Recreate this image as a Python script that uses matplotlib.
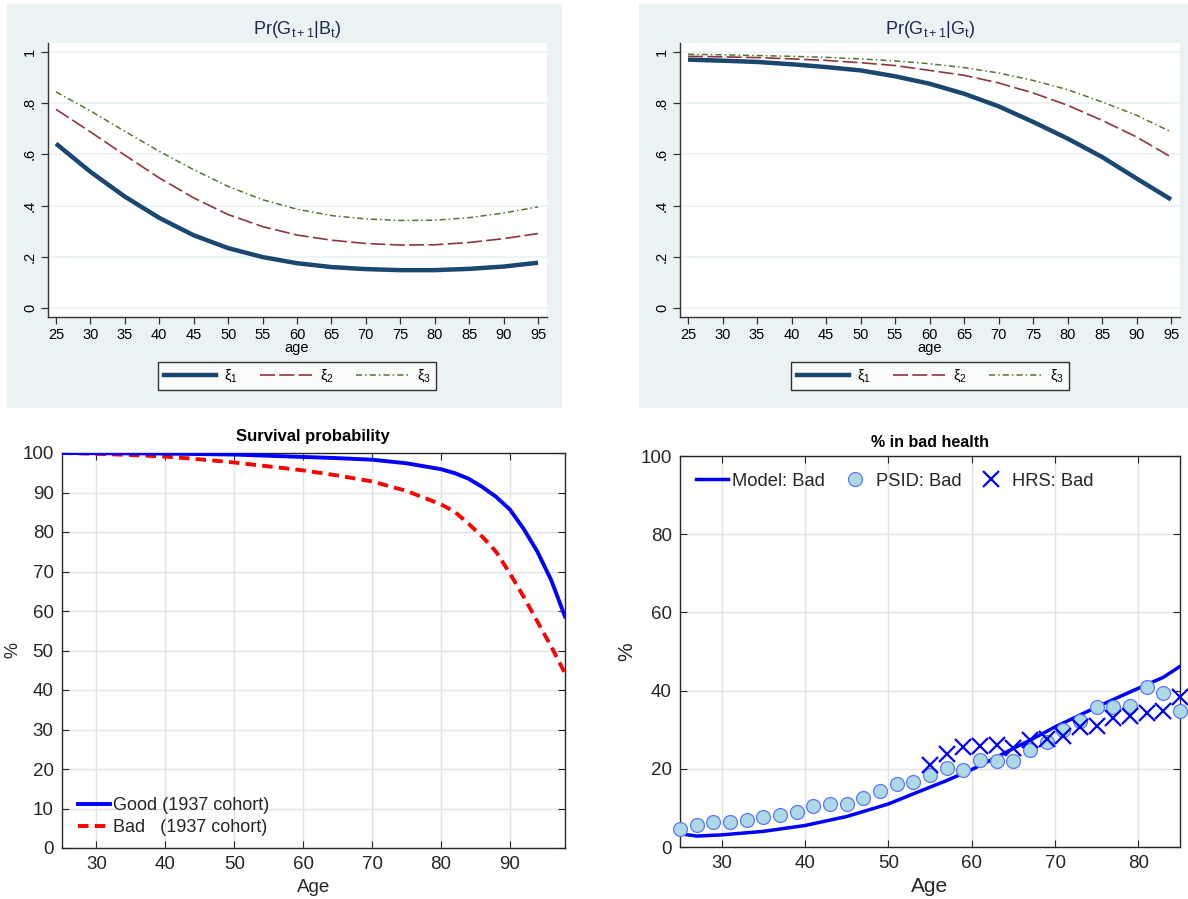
import numpy as np
import matplotlib
matplotlib.use("Agg")
import matplotlib.pyplot as plt
from matplotlib.patches import Rectangle
from matplotlib.lines import Line2D

plt.rcParams['font.family'] = ['Liberation Sans', 'DejaVu Sans']
plt.rcParams['mathtext.fontset'] = 'custom'
plt.rcParams['mathtext.rm'] = 'Liberation Sans'
plt.rcParams['mathtext.it'] = 'Liberation Sans:italic'

# ---------------- data ----------------
ages5 = [25, 30, 35, 40, 45, 50, 55, 60, 65, 70, 75, 80, 85, 90, 95]
gb_xi1 = [0.642, 0.532, 0.435, 0.352, 0.284, 0.234, 0.199, 0.175, 0.160, 0.152, 0.148, 0.148, 0.153, 0.162, 0.177]
gb_xi2 = [0.776, 0.688, 0.597, 0.508, 0.430, 0.365, 0.318, 0.285, 0.265, 0.252, 0.246, 0.247, 0.256, 0.271, 0.291]
gb_xi3 = [0.844, 0.770, 0.690, 0.612, 0.540, 0.475, 0.423, 0.386, 0.361, 0.348, 0.342, 0.343, 0.353, 0.371, 0.395]

gg_xi1 = [0.970, 0.966, 0.961, 0.952, 0.941, 0.928, 0.905, 0.876, 0.837, 0.788, 0.727, 0.662, 0.590, 0.506, 0.424]
gg_xi2 = [0.983, 0.981, 0.978, 0.973, 0.967, 0.958, 0.947, 0.928, 0.909, 0.879, 0.840, 0.792, 0.733, 0.668, 0.590]
gg_xi3 = [0.991, 0.989, 0.986, 0.983, 0.979, 0.973, 0.965, 0.954, 0.939, 0.918, 0.889, 0.853, 0.805, 0.753, 0.688]

xi_labels = ["ξ$_1$", "ξ$_2$", "ξ$_3$"]
top_yticks = [0, 0.2, 0.4, 0.6, 0.8, 1.0]
top_yticklabels = ["0", ".2", ".4", ".6", ".8", "1"]

surv_age_good = [25, 30, 40, 50, 60, 65, 70, 75, 80, 82, 84, 86, 88, 90, 92, 94, 96, 98]
surv_good = [100.0, 99.95, 99.85, 99.6, 99.0, 98.7, 98.3, 97.4, 95.9, 94.9, 93.5, 91.4, 88.9, 85.7, 80.8, 75.0, 67.8, 58.6]
surv_age_bad = [25, 30, 35, 40, 45, 50, 55, 60, 65, 70, 75, 80, 82, 84, 86, 88, 90, 92, 94, 96, 98]
surv_bad = [100.0, 99.8, 99.5, 99.1, 98.4, 97.6, 96.6, 95.6, 94.3, 92.8, 90.4, 87.0, 85.1, 82.1, 78.8, 75.0, 69.5, 63.6, 57.3, 51.0, 44.2]

model_age = [25, 27, 30, 35, 40, 45, 50, 53, 55, 57, 60, 63, 65, 67, 70, 75, 80, 83, 85]
model_bad = [3.4, 2.8, 3.1, 4.0, 5.5, 7.8, 11.0, 13.6, 15.3, 17.0, 19.8, 23.0, 25.2, 27.3, 30.7, 35.8, 40.6, 43.4, 46.2]

psid_age = list(range(25, 86, 2))
psid_bad = [4.7, 5.7, 6.4, 6.5, 6.8, 7.7, 8.1, 8.9, 10.5, 11.1, 11.1, 12.5, 14.3, 16.0, 16.6,
            18.3, 20.3, 19.6, 22.3, 22.1, 22.0, 24.9, 26.8, 30.0, 32.3, 35.7, 35.7, 36.1, 41.0, 39.5, 34.7]
hrs_age = list(range(55, 86, 2))
hrs_bad = [20.9, 23.8, 25.5, 25.8, 26.0, 25.4, 27.4, 27.7, 28.5, 30.8, 30.9, 33.0, 33.6, 34.3, 34.7, 38.3]

# ---------------- figure ----------------
W, H = 1188, 899
fig = plt.figure(figsize=(W / 100, H / 100), dpi=100)
fig.patch.set_facecolor('white')

def fx(px):
    return px / W

def fy(py):
    return 1 - py / H

stata_bg = '#eaf2f3'
navy = '#1a476f'
maroon = '#90353b'
green = '#55752f'
title_col = '#1c2b4a'

# background panels for Stata graphs
fig.patches.append(Rectangle((fx(7), fy(408)), fx(555), 404 / H, transform=fig.transFigure,
                             facecolor=stata_bg, edgecolor='none', zorder=-10))
fig.patches.append(Rectangle((fx(639), fy(408)), fx(549), 404 / H, transform=fig.transFigure,
                             facecolor=stata_bg, edgecolor='none', zorder=-10))

def stata_axes(left_px, right_px, title, s1, s2, s3, title_cx, legend_cx):
    ax = fig.add_axes([fx(left_px), fy(317), fx(right_px - left_px), 274 / H])
    ax.set_zorder(5)
    ax.set_facecolor('white')
    ax.plot(ages5, s1, color=navy, lw=3.2, solid_capstyle='butt', solid_joinstyle='round', zorder=4)
    ax.plot(ages5, s2, color=maroon, lw=1.2, dashes=(9, 2.6), zorder=3)
    ax.plot(ages5, s3, color=green, lw=1.1, dashes=(4, 2, 1, 2), zorder=3)
    ax.set_xlim(23.84, 96.3)
    ax.set_ylim(-0.035, 1.035)
    ax.set_xticks(ages5)
    ax.set_yticks(top_yticks)
    ax.set_yticklabels(top_yticklabels, rotation=90, va='center')
    ax.tick_params(axis='both', labelsize=10.5, length=5, width=0.9, color='#333333', pad=3)
    ax.grid(axis='y', color=stata_bg, lw=1.2)
    ax.set_axisbelow(True)
    for sp in ['top', 'right']:
        ax.spines[sp].set_visible(False)
    for sp in ['left', 'bottom']:
        ax.spines[sp].set_color('#333333')
        ax.spines[sp].set_linewidth(1.0)
    fig.text(fx(title_cx), fy(29), title, ha='center', va='center', fontsize=13, color=title_col)
    fig.text(fx(title_cx), fy(348), 'age', ha='center', va='center', fontsize=10.5, color='black')
    handles = [Line2D([], [], color=navy, lw=3.2),
               Line2D([], [], color=maroon, lw=1.2, dashes=(9, 2.6)),
               Line2D([], [], color=green, lw=1.1, dashes=(4, 2, 1, 2))]
    leg = fig.legend(handles, xi_labels, loc='center', bbox_to_anchor=(fx(legend_cx), fy(376)),
                     ncol=3, frameon=True, fancybox=False, edgecolor='black', fontsize=10.5,
                     handlelength=3.6, handletextpad=0.55, columnspacing=1.5,
                     borderpad=0.35, borderaxespad=0)
    leg.get_frame().set_linewidth(1.0)
    leg.get_frame().set_facecolor('white')
    return ax

stata_axes(48, 547, 'Pr(G$_{\\mathrm{t+1}}$|B$_{\\mathrm{t}}$)', gb_xi1, gb_xi2, gb_xi3, 297, 297)
stata_axes(680, 1180, 'Pr(G$_{\\mathrm{t+1}}$|G$_{\\mathrm{t}}$)', gg_xi1, gg_xi2, gg_xi3, 930, 930)

# ---------------- MATLAB style panels ----------------
mat_axis = '#262626'
mat_grid = '#e3e3e3'

def matlab_style(ax):
    ax.grid(True, color=mat_grid, lw=1.0)
    ax.set_axisbelow(True)
    ax.tick_params(axis='both', direction='in', top=True, right=True, length=5, width=0.8,
                   color=mat_axis, labelcolor=mat_axis, labelsize=13.5, pad=6)
    for sp in ax.spines.values():
        sp.set_color(mat_axis)
        sp.set_linewidth(1.0)

# Survival probability
ax3 = fig.add_axes([fx(62), fy(848), fx(503), 395 / H])
ax3.plot(surv_age_good, surv_good, color='#0000ff', lw=2.8, label='Good (1937 cohort)', zorder=4)
ax3.plot(surv_age_bad, surv_bad, color='#ff0000', lw=2.8, dashes=(2.7, 1.6), label='Bad   (1937 cohort)', zorder=3)
ax3.set_xlim(25, 98)
ax3.set_ylim(0, 100)
ax3.set_xticks([30, 40, 50, 60, 70, 80, 90])
ax3.set_yticks(range(0, 101, 10))
matlab_style(ax3)
ax3.set_xlabel('Age', fontsize=13.5, color=mat_axis, labelpad=4)
ax3.set_ylabel('%', fontsize=13, color=mat_axis)
ax3.yaxis.set_label_coords(-0.08, 0.5)
fig.text(fx(313), fy(437), 'Survival probability', ha='center', va='center', fontsize=12,
         fontweight='bold', color='black')
ax3.legend(loc='lower left', bbox_to_anchor=(0.0, -0.012), frameon=False, fontsize=13,
           handlelength=1.75, handletextpad=0.15, labelspacing=0.28, labelcolor=mat_axis)

# % in bad health
ax4 = fig.add_axes([fx(680), fy(847), fx(500), 391 / H])
ax4.plot(model_age, model_bad, color='#0000ff', lw=2.5, label='Model: Bad', zorder=3)
ax4.plot(psid_age, psid_bad, ls='none', marker='o', ms=10, mfc='#add8e6', mec='#5a78ff',
         mew=0.9, label='PSID: Bad', zorder=4, clip_on=False)
ax4.plot(hrs_age, hrs_bad, ls='none', marker='x', ms=11, mec='#0000ff', mew=1.6,
         label='HRS: Bad', zorder=5, clip_on=False)
ax4.set_xlim(25, 85)
ax4.set_ylim(0, 100)
ax4.set_xticks([30, 40, 50, 60, 70, 80])
ax4.set_yticks(range(0, 101, 20))
matlab_style(ax4)
ax4.set_xlabel('Age', fontsize=15, color=mat_axis, labelpad=3)
ax4.set_ylabel('%', fontsize=15, color=mat_axis)
ax4.yaxis.set_label_coords(-0.088, 0.5)
fig.text(fx(930), fy(443), '% in bad health', ha='center', va='center', fontsize=11.5,
         fontweight='bold', color='black')
ax4.legend(loc='upper left', bbox_to_anchor=(0.0, 1.0), ncol=3, frameon=False, fontsize=13.2,
           handlelength=1.7, handletextpad=0.25, columnspacing=0.8, labelcolor=mat_axis)

fig.savefig('out.png', dpi=100, facecolor='white')
